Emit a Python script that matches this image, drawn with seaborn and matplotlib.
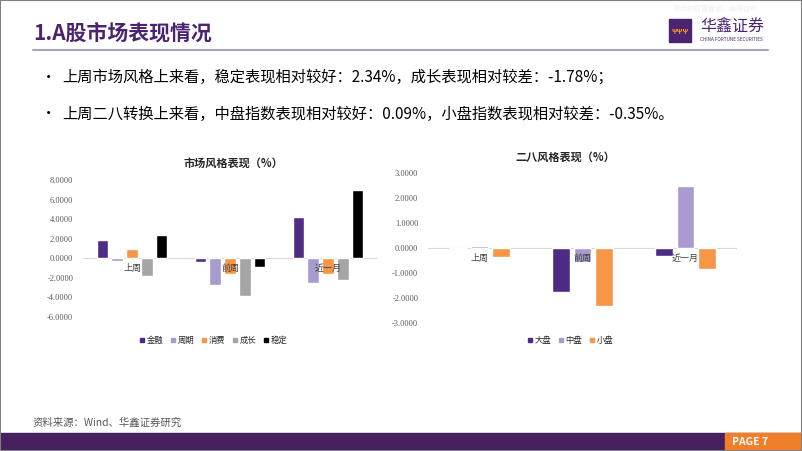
import numpy as np
import pandas as pd
import matplotlib.pyplot as plt
import seaborn as sns
from matplotlib.patches import Rectangle
from matplotlib.lines import Line2D

# 数据
periods = ['上周', '前周', '近一月']

style_names = ['金融', '周期', '消费', '成长', '稳定']
jinrong = [1.91, -0.34, 4.27]
zhouqi = [-0.30, -2.73, -2.53]
xiaofei = [0.99, -1.60, -1.60]
chengzhang = [-1.78, -3.86, -2.26]
wending = [2.34, -0.89, 6.97]

size_names = ['大盘', '中盘', '小盘']
dapan = [0.00, -1.75, -0.29]
zhongpan = [0.09, -0.55, 2.51]
xiaopan = [-0.35, -2.31, -0.83]

bullet_texts = [
    '上周市场风格上来看，稳定表现相对较好：2.34%，成长表现相对较差：-1.78%；',
    '上周二八转换上来看，中盘指数表现相对较好：0.09%，小盘指数表现相对较差：-0.35%。',
]

PURPLE = '#4F2C84'
LPURPLE = '#A99BCF'
ORANGE = '#F79646'
GRAY = '#A5A5A5'
style_colors = [PURPLE, LPURPLE, ORANGE, GRAY, '#000000']
size_colors = [PURPLE, LPURPLE, ORANGE]

sns.set_style('white')
plt.rcParams['font.family'] = ['Noto Sans CJK SC', 'DejaVu Sans']

W, H = 802, 451
fig = plt.figure(figsize=(W / 100, H / 100), dpi=100)


def fx(px):
    return px / W


def fy(py):
    return 1 - py / H


def make_long(names, series):
    rows = []
    for name, vals in zip(names, series):
        for p, v in zip(periods, vals):
            rows.append({'period': p, 'name': name, 'value': v})
    return pd.DataFrame(rows)


def draw_chart(ax, df, names, colors, ylim, step, width, gap, title, title_xy, legend_xy):
    sns.barplot(data=df, x='period', y='value', hue='name', hue_order=names,
                palette=colors, width=width, gap=gap, ax=ax, legend=False,
                saturation=1, errorbar=None)
    ax.set_ylim(*ylim)
    ax.set_xlim(-0.5, 2.5)
    ax.axhline(0, color='#D9D9D9', lw=0.8, zorder=0)
    for s in ax.spines.values():
        s.set_visible(False)
    ax.set_xlabel('')
    ax.set_ylabel('')
    ax.set_xticks([])
    ticks = np.arange(ylim[0], ylim[1] + step / 2, step)
    ax.set_yticks(ticks)
    ax.set_yticklabels([f'{t:.4f}' for t in ticks], family=['Liberation Serif'],
                       fontsize=6, color='#595959')
    ax.tick_params(axis='y', length=0, pad=7)
    for i, p in enumerate(periods):
        ax.annotate(p, (i, 0), xytext=(0, -7), textcoords='offset points',
                    ha='center', va='center', fontsize=6.5, color='#404040')
    fig.text(fx(title_xy[0]), fy(title_xy[1]), title, ha='center', va='center',
             fontsize=8, fontweight='bold', color='#262626')
    handles = [Line2D([], [], marker='s', ls='', color=c, markersize=3) for c in colors]
    fig.legend(handles, names, loc='center', bbox_to_anchor=(fx(legend_xy[0]), fy(legend_xy[1])),
               ncol=len(names), frameon=False, fontsize=6, handletextpad=0.1,
               columnspacing=0.8, handlelength=0.8)


# 左图：市场风格表现
ax1 = fig.add_axes([fx(83), fy(317), fx(377 - 83), (317 - 180) / H])
df1 = make_long(style_names, [jinrong, zhouqi, xiaofei, chengzhang, wending])
draw_chart(ax1, df1, style_names, style_colors, (-6, 8), 2, 0.75, 0.2,
           '市场风格表现（%）', (233, 163), (213, 340))

# 右图：二八风格表现
ax2 = fig.add_axes([fx(428), fy(323.3), fx(737 - 428), (323.3 - 173.3) / H])
df2 = make_long(size_names, [dapan, zhongpan, xiaopan])
draw_chart(ax2, df2, size_names, size_colors, (-3, 3), 1, 0.62, 0.17,
           '二八风格表现（%）', (565, 157), (570, 340))

# 页眉
fig.text(fx(33), fy(33), '1.A股市场表现情况', ha='left', va='center',
         fontsize=15, fontweight='bold', color='#4B2370')
fig.add_artist(Line2D([fx(33), fx(768)], [fy(50), fy(50)], color='#A6A6B4', lw=1.5))
fig.add_artist(Rectangle((fx(669), fy(42)), fx(22), (42 - 19) / H, color='#4B2370'))
fig.text(fx(680), fy(31), 'ΨΨΨ', ha='center', va='center', fontsize=5,
         color='#F7941D', fontweight='bold')
fig.text(fx(700), fy(27.5), '华鑫证券', ha='left', va='center', fontsize=11.5,
         color='#4B2370')
fig.text(fx(700), fy(39.5), 'CHINA FORTUNE SECURITIES', ha='left', va='center',
         fontsize=3.3, color='#4B2370')
fig.text(fx(716), fy(9), '做您的财富管家，值得信赖', ha='center', va='center',
         fontsize=5, color='#F0F0F0')

# 要点
for i, t in enumerate(bullet_texts):
    y = 77 + i * 37
    fig.text(fx(41), fy(y), '•', ha='left', va='center', fontsize=11, color='#000000')
    fig.text(fx(62), fy(y), t, ha='left', va='center', fontsize=11, color='#000000')

# 页脚
fig.text(fx(33), fy(423), '资料来源：Wind、华鑫证券研究', ha='left', va='center',
         fontsize=7.5, color='#595959')
fig.add_artist(Rectangle((0, 0), 1, (451 - 433) / H, color='#47215F'))
fig.add_artist(Rectangle((fx(725), 0), fx(802 - 725), (451 - 433) / H, color='#F07F2A'))
fig.text(fx(750), fy(442), 'PAGE 7', ha='center', va='center', fontsize=7.5,
         color='white', fontweight='bold')

# 外框
fig.add_artist(Rectangle((0, 0), 1, 1, fill=False, ec='#808080', lw=1.5))

fig.savefig('out.png', dpi=100)
